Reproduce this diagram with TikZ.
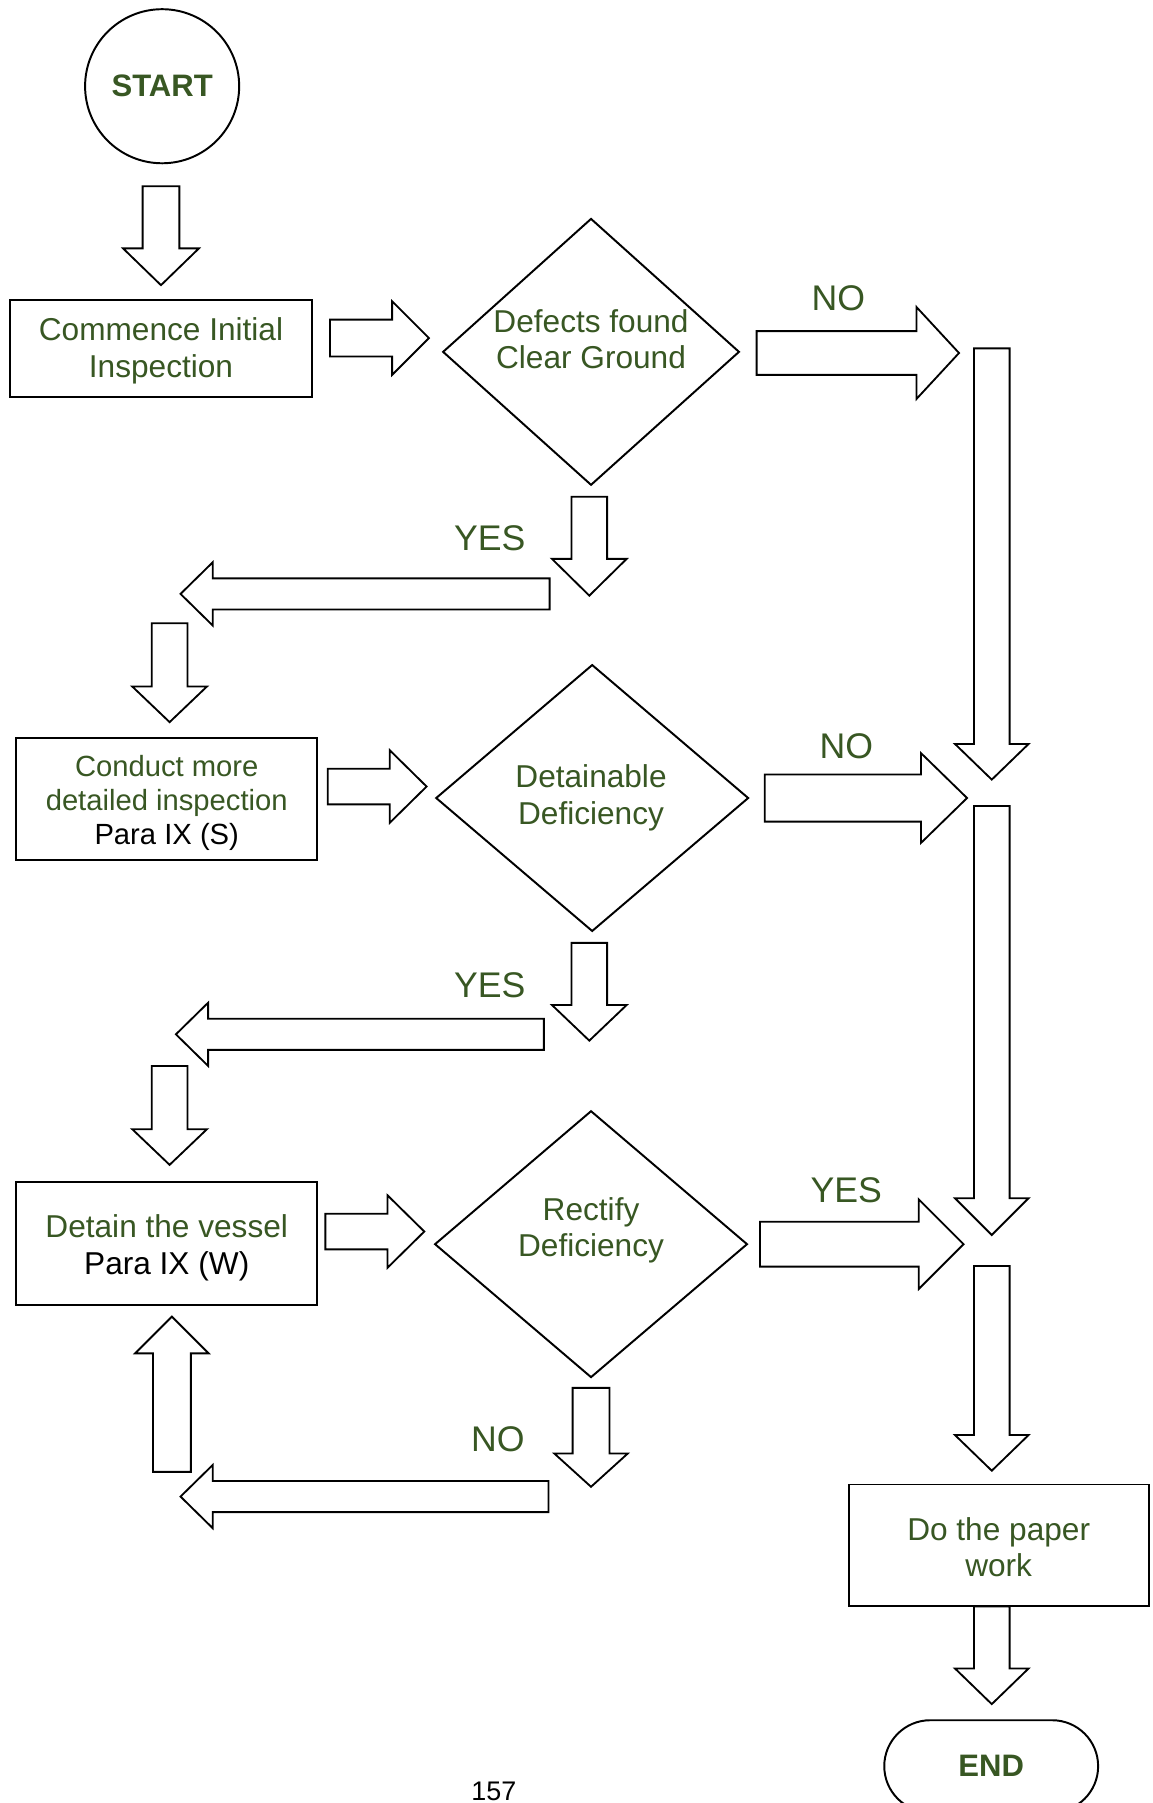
\documentclass[tikz,border=0pt]{standalone}
\usepackage{fontspec}
\setmainfont{Liberation Sans}
\usetikzlibrary{shapes.geometric}
\definecolor{txtgreen}{RGB}{56,87,35}
% vertical block arrow: cx, shaft half, head half, ystart, yhead, ytip
\newcommand\arrV[6]{\draw[blockarrow] ({#1-#2},#4) -- ({#1+#2},#4) -- ({#1+#2},#5) -- ({#1+#3},#5) -- (#1,#6) -- ({#1-#3},#5) -- ({#1-#2},#5) -- cycle;}
% horizontal block arrow: cy, shaft half, head half, xstart, xhead, xtip
\newcommand\arrH[6]{\draw[blockarrow] (#4,{#1-#2}) -- (#5,{#1-#2}) -- (#5,{#1-#3}) -- (#6,#1) -- (#5,{#1+#3}) -- (#5,{#1+#2}) -- (#4,{#1+#2}) -- cycle;}
\tikzset{
  blockarrow/.style={draw=black, line width=1.6pt, fill=white, line join=miter},
  boxnode/.style={draw=black, line width=1.7pt, minimum width=262pt, inner sep=0pt},
  decision/.style={diamond, draw=black, line width=1.7pt, inner sep=0pt},
  dtext/.style={align=center, text=txtgreen, font=\fontsize{27.5}{32}\selectfont, inner sep=0pt},
  lbl/.style={text=txtgreen, font=\fontsize{31}{36}\selectfont, inner sep=0pt},
}
\begin{document}
\begin{tikzpicture}[x=1pt, y=-1pt]
\useasboundingbox (0,0) rectangle (1002,1568);
\clip (0,0) rectangle (1002,1568);
\fill[white] (0,0) rectangle (1002,1568);

% start
\node[circle, draw=black, line width=1.7pt, minimum size=134pt, inner sep=0pt, text=txtgreen, font=\fontsize{27}{32}\selectfont\bfseries] (start) at (141,75) {START};
\arrV{140}{16}{33}{162}{216}{248}

% box 1
\node[boxnode, minimum height=84pt] (box1) at (140,303) {};
\node[dtext] (box1t) at (140,305) {Commence Initial\\Inspection};
\arrH{294}{16}{32}{287}{341}{373}

% diamond 1
\node[decision, minimum width=258pt, minimum height=232pt] (d1) at (514,306) {};
\node[dtext] (d1t) at (514,295) {Defects found\\Clear Ground};
\arrH{307}{19}{40}{658}{797}{834}
\node[lbl] (no1) at (729,259) {NO};
\arrV{862.5}{15.5}{32}{303}{647}{678}

\arrV{512.5}{15.5}{32.5}{432}{486}{518}
\node[lbl] (yes1) at (426,468) {YES};
\arrH{516.5}{13.5}{27.5}{478}{185}{157}
\arrV{147.5}{15.5}{32.5}{542}{597}{628}

% box 2
\node[boxnode, minimum height=106pt] (box2) at (145,695) {};
\node[dtext, font=\fontsize{25.4}{29.5}\selectfont] (box2t) at (145,698.5) {Conduct more\\detailed inspection\\\textcolor{black}{Para IX (S)}};
\arrH{684}{15.5}{31.5}{285}{339}{371}

% diamond 2
\node[decision, minimum width=272pt, minimum height=232pt] (d2) at (515,694) {};
\node[dtext] (d2t) at (514,694) {Detainable\\Deficiency};
\arrH{694}{20.5}{39}{665}{801}{841}
\node[lbl] (no2) at (736,649) {NO};
\arrV{862.5}{15.5}{32}{701}{1042}{1074}

\arrV{512.5}{15.5}{32.5}{820}{874}{905}
\node[lbl] (yes2) at (426,857) {YES};
\arrH{899.5}{13.5}{27.5}{473}{181}{153}
\arrV{147.5}{15.5}{32.5}{927}{982}{1013}

% box 3
\node[boxnode, minimum height=107pt] (box3) at (145,1081.5) {};
\node[dtext] (box3t) at (145,1085.5) {Detain the vessel\\\textcolor{black}{Para IX (W)}};
\arrH{1071}{15.5}{31.5}{283}{337}{369}

% diamond 3
\node[decision, minimum width=272pt, minimum height=232pt] (d3) at (514,1082) {};
\node[dtext] (d3t) at (514,1070) {Rectify\\Deficiency};
\arrH{1082}{19.5}{39}{661}{799}{838}
\node[lbl] (yes3) at (736,1035) {YES};
\arrV{862.5}{15.5}{32}{1101}{1248}{1279}

% NO loop
\arrV{514}{16}{32}{1207}{1264}{1293}
\node[lbl] (no3) at (433,1252) {NO};
\arrH{1301.5}{13.5}{27.5}{477}{185}{157}
\arrV{149.5}{16.5}{32}{1280}{1177}{1145}

% box 4
\node[boxnode, minimum width=261pt, minimum height=106pt] (box4) at (868.5,1344) {};
\node[dtext] (box4t) at (868.5,1345.5) {Do the paper\\work};
\arrV{862.5}{15.5}{32}{1397}{1451}{1482}

% end
\node[draw=black, line width=1.7pt, rounded corners=40pt, minimum width=186pt, minimum height=80pt, inner sep=0pt, text=txtgreen, font=\fontsize{27}{32}\selectfont\bfseries] (end) at (862,1536) {END};

% page number
\node[anchor=base, inner sep=0pt, font=\fontsize{23.4}{28}\selectfont] (page) at (429.5,1566) {157};
\end{tikzpicture}
\end{document}
